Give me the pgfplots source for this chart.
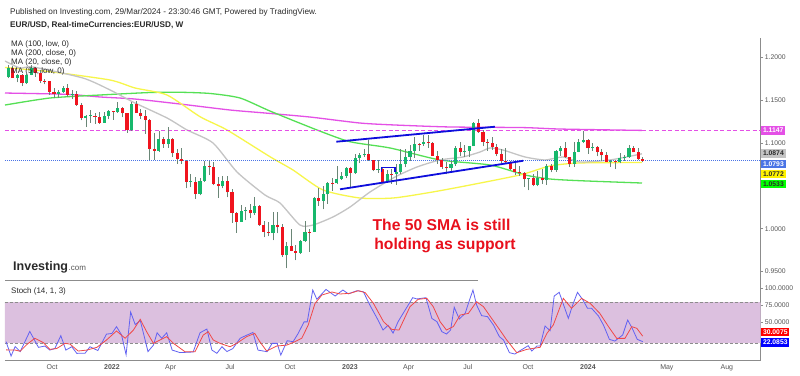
\documentclass[border=0pt]{standalone}
\usepackage{fontspec}
\setmainfont{Liberation Sans}
\usepackage{pgfplots}
\usepackage{pgfplotstable}
\pgfplotsset{compat=1.18}
\definecolor{upg}{HTML}{17B86C}
\definecolor{dnr}{HTML}{F0141E}
\definecolor{wick}{HTML}{6A8676}
\definecolor{maA}{HTML}{E450E6}
\definecolor{maB}{HTML}{55E055}
\definecolor{maC}{HTML}{F7F64A}
\definecolor{maD}{HTML}{C4C4C4}
\definecolor{chan}{HTML}{0E0EDC}
\definecolor{lastp}{HTML}{4A74E6}
\definecolor{stfill}{HTML}{DCC0DF}
\definecolor{stk}{HTML}{6262F2}
\definecolor{std}{HTML}{F04848}
\definecolor{labgray}{HTML}{555555}
\definecolor{axgray}{HTML}{8C8C8C}
\definecolor{txt}{HTML}{2A2A2A}
\definecolor{annot}{HTML}{E8101C}

% weekly candles: w = week index (0 = week of 3 Jan 2022), open high low close
\pgfplotstableread{
w o h l c
-23 1.1770 1.1909 1.1753 1.1870
-21 1.1760 1.1805 1.1706 1.1795
-19 1.1697 1.1810 1.1690 1.1795
-18 1.1795 1.1909 1.1790 1.1880
-12 1.1574 1.1624 1.1524 1.1600
-11 1.1600 1.1669 1.1586 1.1645
-9 1.1559 1.1616 1.1513 1.1568
-6 1.1288 1.1322 1.1186 1.1318
-5 1.1318 1.1383 1.1235 1.1326
-2 1.1239 1.1360 1.1236 1.1320
-1 1.1320 1.1386 1.1279 1.1370
1 1.1360 1.1482 1.1355 1.1412
4 1.1147 1.1483 1.1140 1.1450
10 1.0910 1.1137 1.0900 1.1050
12 1.0985 1.1185 1.0945 1.1050
17 1.0545 1.0642 1.0483 1.0550
19 1.0410 1.0590 1.0390 1.0560
20 1.0560 1.0787 1.0550 1.0735
24 1.0495 1.0615 1.0470 1.0555
28 1.0080 1.0278 1.0080 1.0210
29 1.0210 1.0250 1.0097 1.0220
31 1.0180 1.0368 1.0160 1.0260
35 0.9955 1.0200 0.9865 1.0040
38 0.9690 0.9850 0.9536 0.9800
41 0.9722 0.9870 0.9705 0.9860
42 0.9860 1.0094 0.9850 0.9965
44 0.9960 1.0365 0.9960 1.0355
46 1.0325 1.0497 1.0225 1.0400
47 1.0400 1.0545 1.0290 1.0535
49 1.0530 1.0737 1.0520 1.0585
50 1.0585 1.0660 1.0570 1.0620
51 1.0620 1.0715 1.0590 1.0705
53 1.0645 1.0875 1.0640 1.0830
54 1.0830 1.0887 1.0765 1.0855
55 1.0855 1.0930 1.0835 1.0870
58 1.0680 1.0805 1.0655 1.0695
60 1.0547 1.0690 1.0535 1.0635
62 1.0640 1.0760 1.0515 1.0665
63 1.0665 1.0930 1.0635 1.0760
64 1.0760 1.0925 1.0715 1.0840
65 1.0840 1.0973 1.0788 1.0905
66 1.0905 1.1075 1.0830 1.0990
68 1.0990 1.1095 1.0965 1.1015
74 1.0710 1.0790 1.0665 1.0750
75 1.0750 1.0970 1.0733 1.0940
77 1.0895 1.0975 1.0835 1.0910
78 1.0910 1.0970 1.0835 1.0965
79 1.0965 1.1245 1.0965 1.1230
91 1.0575 1.0590 1.0448 1.0587
93 1.0510 1.0668 1.0495 1.0595
95 1.0565 1.0755 1.0515 1.0730
97 1.0685 1.0915 1.0665 1.0910
98 1.0910 1.0965 1.0850 1.0940
101 1.0760 1.1010 1.0725 1.0895
102 1.0895 1.1045 1.0890 1.1015
103 1.1015 1.1140 1.1000 1.1040
105 1.0940 1.0998 1.0910 1.0950
109 1.0780 1.0805 1.0720 1.0785
111 1.0775 1.0888 1.0762 1.0820
112 1.0820 1.0855 1.0795 1.0838
113 1.0838 1.0980 1.0830 1.0940
}\up

\pgfplotstableread{
w o h l c
-22 1.1870 1.1900 1.1760 1.1762
-20 1.1795 1.1805 1.1664 1.1697
-17 1.1880 1.1884 1.1771 1.1813
-16 1.1813 1.1849 1.1700 1.1724
-15 1.1724 1.1750 1.1684 1.1718
-14 1.1718 1.1720 1.1563 1.1596
-13 1.1596 1.1640 1.1529 1.1574
-10 1.1645 1.1692 1.1535 1.1559
-8 1.1568 1.1608 1.1432 1.1445
-7 1.1445 1.1464 1.1264 1.1288
-4 1.1316 1.1355 1.1226 1.1306
-3 1.1306 1.1360 1.1222 1.1239
0 1.1370 1.1375 1.1272 1.1360
2 1.1412 1.1415 1.1300 1.1345
3 1.1345 1.1345 1.1121 1.1147
5 1.1450 1.1495 1.1375 1.1350
6 1.1350 1.1395 1.1280 1.1320
7 1.1320 1.1390 1.1106 1.1270
8 1.1270 1.1275 1.0806 1.0930
9 1.0930 1.1121 1.0806 1.0910
11 1.1050 1.1070 1.0945 1.0985
13 1.1050 1.1054 1.0838 1.0880
14 1.0880 1.0935 1.0757 1.0810
15 1.0810 1.0936 1.0760 1.0795
16 1.0795 1.0806 1.0471 1.0545
18 1.0550 1.0600 1.0350 1.0410
21 1.0735 1.0787 1.0630 1.0720
22 1.0720 1.0775 1.0505 1.0520
23 1.0520 1.0600 1.0360 1.0495
25 1.0555 1.0615 1.0365 1.0425
26 1.0425 1.0460 1.0070 1.0185
27 1.0185 1.0200 0.9952 1.0080
30 1.0220 1.0294 1.0123 1.0180
32 1.0260 1.0280 1.0033 1.0040
33 1.0040 1.0090 0.9900 0.9965
34 0.9965 1.0080 0.9910 0.9955
36 1.0040 1.0197 0.9945 1.0015
37 1.0015 1.0050 0.9670 0.9690
39 0.9800 0.9999 0.9735 0.9740
40 0.9740 0.9810 0.9630 0.9722
43 0.9965 1.0000 0.9730 0.9955
45 1.0355 1.0480 1.0270 1.0325
48 1.0535 1.0595 1.0443 1.0525
52 1.0705 1.0715 1.0483 1.0645
56 1.0870 1.1033 1.0790 1.0800
57 1.0800 1.0804 1.0670 1.0680
59 1.0695 1.0705 1.0533 1.0547
61 1.0635 1.0695 1.0525 1.0625
67 1.0990 1.1000 1.0910 1.0980
69 1.1015 1.1090 1.0940 1.1005
70 1.1005 1.1010 1.0850 1.0850
71 1.0850 1.0906 1.0760 1.0805
72 1.0805 1.0830 1.0700 1.0720
73 1.0720 1.0780 1.0635 1.0710
76 1.0940 1.1012 1.0845 1.0895
80 1.1230 1.1276 1.1120 1.1125
81 1.1125 1.1150 1.0960 1.1015
82 1.1015 1.1045 1.0910 1.1005
83 1.1005 1.1065 1.0920 1.0950
84 1.0950 1.0985 1.0845 1.0872
85 1.0872 1.0930 1.0765 1.0795
86 1.0795 1.0945 1.0770 1.0775
87 1.0775 1.0795 1.0685 1.0700
88 1.0700 1.0770 1.0630 1.0660
89 1.0660 1.0735 1.0615 1.0645
90 1.0645 1.0660 1.0488 1.0575
92 1.0587 1.0640 1.0495 1.0510
94 1.0595 1.0695 1.0520 1.0565
96 1.0730 1.0755 1.0656 1.0685
99 1.0940 1.1017 1.0828 1.0840
100 1.0840 1.0840 1.0724 1.0760
104 1.1040 1.1045 1.0877 1.0940
106 1.0950 1.0970 1.0845 1.0895
107 1.0895 1.0933 1.0795 1.0855
108 1.0855 1.0897 1.0780 1.0780
110 1.0785 1.0805 1.0695 1.0775
114 1.0940 1.0965 1.0890 1.0890
115 1.0890 1.0942 1.0800 1.0810
116 1.0810 1.0840 1.0775 1.0793
}\down

\pgfplotsset{
  wickstyle/.style={forget plot, mark=none, wick, line width=0.8pt,
    quiver={u=0, v=\thisrow{h}-\thisrow{l}}},
  bodystyle/.style={forget plot, mark=none, #1, line width=3.1pt,
    quiver={u=0, v={max(abs(\thisrow{c}-\thisrow{o}),0.0009)}}},
}

\begin{document}
\begin{tikzpicture}
\useasboundingbox (0,0) rectangle (800pt,-375pt);
\fill[white] (0,0) rectangle (800pt,-375pt);

% ---------- main price panel ----------
\begin{axis}[
  at={(5pt,-280pt)}, anchor=south west,
  scale only axis, width=755.7pt, height=242pt,
  xmin=-23.73, xmax=141.85, ymin=0.94014, ymax=1.22252,
  axis x line=none, axis y line*=right,
  axis line style={draw=axgray, line width=0.8pt},
  ytick={0.95,1.0,1.1,1.15,1.2},
  yticklabels={0.9500,1.0000,1.1000,1.1500,1.2000},
  yticklabel style={font=\fontsize{6.8}{8}\selectfont, text=labgray, anchor=west, inner sep=0pt, xshift=1.5pt},
  tick align=outside, major tick length=2.5pt,
  ytick style={draw=axgray, line width=0.6pt},
  clip=true,
]
% moving averages
\addplot[maA, line width=1.3pt, smooth, tension=0.4] coordinates {
(-23.73,1.1583) (-10.14,1.1568) (-2.91,1.1537) (4.75,1.1513) (14.61,1.1455) (25.57,1.1385)
(33.24,1.1350) (43.1,1.1303) (54.05,1.1233) (61.72,1.1210) (73.77,1.1187) (89.76,1.1180)
(97.87,1.1163) (115.8,1.1147)};
\addplot[maB, line width=1.3pt, smooth, tension=0.4] coordinates {
(-23.73,1.1443) (-13.87,1.1525) (-2.91,1.1560) (8.04,1.1589) (14.61,1.1592) (21.19,1.1578)
(27.76,1.1525) (34.33,1.1373) (44.63,1.1152) (51.86,1.1015) (60.62,1.0942) (71.58,1.0802)
(82.54,1.0743) (90.21,1.0627) (95.68,1.0580) (102.26,1.0560) (115.84,1.0533)};
\addplot[maC, line width=1.3pt, smooth, tension=0.4] coordinates {
(-23.73,1.1881) (-13.87,1.1832) (-0.72,1.1735) (4.75,1.1642) (11.77,1.1560) (19,1.1307)
(24.91,1.1152) (34.33,1.0840) (39.37,1.0685) (45.94,1.0452) (54.05,1.0358) (61.28,1.0358)
(68.73,1.0417) (75.96,1.0487) (89.11,1.0627) (95.68,1.0732) (102.26,1.0767) (115.84,1.0772)};
\addplot[maD, line width=1.3pt, smooth, tension=0.4] coordinates {
(-23.73,1.1957) (-20.44,1.1875) (-17.59,1.1887) (-6.64,1.1758) (-0.72,1.1619) (4.32,1.1478)
(11.77,1.1292) (16.15,1.1152) (21.85,1.1000) (27.1,1.0662) (33.24,1.0393) (36.52,1.0300)
(40.9,1.0043) (43.75,1.0043) (48.13,1.0137) (51.86,1.0253) (56.24,1.0428) (61.72,1.0603)
(66.54,1.0720) (71.58,1.0802) (76.62,1.0837) (80.35,1.0895) (82.54,1.0942) (85.39,1.0918)
(90.21,1.0837) (94.59,1.0802) (98.54,1.0837) (102.26,1.0778) (108.83,1.0802) (115.84,1.0874)};
% horizontal lines
\addplot[maA, line width=1.1pt, dash pattern=on 4pt off 2.5pt] coordinates {(-23.73,1.1147) (141.85,1.1147)};
\addplot[lastp, line width=0.8pt, dash pattern=on 1pt off 1pt] coordinates {(-23.73,1.0793) (141.85,1.0793)};
% candles: wicks from low to high, bodies from min(open,close) upward
\addplot[wickstyle] table[x=w, y=l] {\up};
\addplot[wickstyle] table[x=w, y=l] {\down};
\addplot[bodystyle=upg] table[x=w, y=o] {\up};
\addplot[bodystyle=dnr] table[x=w, y=c] {\down};
% channel lines
\addplot[chan, line width=1.8pt] coordinates {(48.86,1.1015) (83.63,1.1190)};
\addplot[chan, line width=1.8pt] coordinates {(49.68,1.0460) (89.83,1.0793)};
\addplot[chan, line width=1.2pt] coordinates {(58.8,1.0665) (58.8,1.0712) (61.7,1.0712) (61.7,1.0665)};
\end{axis}

% ---------- stochastic panel ----------
\begin{axis}[
  at={(5pt,-360pt)}, anchor=south west,
  scale only axis, width=755.7pt, height=80pt,
  xmin=-23.73, xmax=141.85, ymin=-4.83, ymax=112.25,
  axis x line*=bottom, axis y line*=right,
  axis line style={draw=axgray, line width=0.8pt},
  ytick={50,75,100},
  yticklabels={50.0000,75.0000,100.0000},
  yticklabel style={font=\fontsize{6.8}{8}\selectfont, text=labgray, anchor=west, inner sep=0pt, xshift=1.5pt},
  xtick={-13.43,-0.29,12.57,25.57,38.71,51.86,64.71,77.71,90.86,104,121.29,134.43},
  xticklabels={Oct,\textbf{2022},Apr,Jul,Oct,\textbf{2023},Apr,Jul,Oct,\textbf{2024},May,Aug},
  xticklabel style={font=\fontsize{7}{8}\selectfont, text=labgray, inner sep=0pt, yshift=-1.5pt},
  tick align=outside, major tick length=2.5pt,
  ytick style={draw=axgray, line width=0.6pt},
  xtick style={draw=none},
  clip=true,
]
\addplot[fill=stfill, draw=none] coordinates {(-23.73,20) (141.85,20) (141.85,80) (-23.73,80) (-23.73,20)};
\addplot[axgray, line width=0.8pt, dash pattern=on 3pt off 2pt] coordinates {(-23.73,80) (141.85,80)};
\addplot[axgray, line width=0.8pt, dash pattern=on 3pt off 2pt] coordinates {(-23.73,20) (141.85,20)};
\addplot[stk, line width=0.8pt] coordinates {
(-23.5,22) (-22.4,1) (-21.5,14.9) (-20.4,7.5) (-18.3,37) (-16.4,13.7) (-15,15.6) (-13.9,9.7)
(-12.8,12) (-11.5,30.8) (-10.4,9.7) (-9.1,14.6) (-8,4.9) (-6.2,5) (-5.1,14.6) (-3.4,9)
(-1.5,33) (-0.3,34) (0.7,44) (1.8,32) (2.8,3) (3.8,65.4) (4.8,47) (5.9,53) (7.6,7.5)
(8.8,17) (9.6,35) (10.6,27) (11.7,35) (12.9,9.7) (14.6,6) (17.5,6.9) (19,35) (20.5,40.5)
(21.6,9.7) (22.7,5) (23.8,14.6) (24.9,7.5) (26.2,12) (27.8,27) (28.9,30.5) (30.6,35.5)
(31.7,9.7) (33.7,7.3) (34.8,19.5) (35.9,19.5) (36.7,2.4) (38.1,23.4) (39.4,22) (40.5,34)
(41.8,51) (42.5,51) (43.7,97.6) (44.6,84) (46.6,98.5) (48.6,88.8) (50.3,97.6) (51.5,92)
(53.4,96.6) (54.8,95) (56.2,75.7) (58,53.7) (59.1,39) (60.2,46) (61.3,34.5) (62.4,51.3)
(65.6,86.4) (66.5,84.5) (68.5,86.4) (69.8,56) (70.9,51.3) (72,36.6) (73,33.2) (73.9,39)
(74.7,72.3) (75.8,55.2) (77.1,63.4) (77.8,78) (78.8,97.6) (79.6,75.7) (80.7,60.1) (82,58.6)
(83.3,46.3) (84.6,29.3) (85.5,24.4) (86.8,5.9) (88,3.9) (89.1,8.8) (90.9,16.1) (91.7,8.3)
(92.8,15.6) (93.5,15.6) (94.6,44.9) (95.7,38) (96.6,88.8) (97.7,94.2) (98.8,73.2) (99.7,56.1)
(100.7,76.6) (101.7,94.2) (102.9,83) (103.9,70.8) (104.8,70.8) (106.3,59.6) (107.4,46.3)
(108.7,25.4) (109.9,22.9) (111.6,31.7) (112.7,53.7) (113.7,41.6) (114.8,25.4) (116,22.09)};
\addplot[std, line width=0.8pt] coordinates {
(-23.5,10) (-21.5,9.7) (-20.4,8) (-19,17.5) (-17.2,27) (-15.3,20.5) (-13.9,10.7) (-12.4,12)
(-10.6,19.5) (-9.5,18.5) (-7.7,8.3) (-5.8,9.7) (-3.6,13.7) (-1.5,24.4) (0.7,37.6) (2.6,27)
(4.4,39) (5.9,54.7) (7.3,36.6) (8.8,19.5) (10.2,24.4) (11.7,29.3) (13.2,19.5) (15.7,7.3)
(17.9,7.3) (19.7,31.7) (20.8,36.6) (21.9,24.4) (23.4,19.5) (25.6,14.6) (27,19.5) (29.2,29.3)
(31,34.1) (32.1,22) (33.6,8.3) (35.8,15.6) (38,17) (39.8,22) (41.3,27) (42.7,46.3) (44.2,78)
(45.7,90.3) (47.9,94.7) (49.7,91.8) (51.9,92.8) (53.7,96.6) (55.2,93.7) (57,78) (59.2,51.3)
(61,40) (62.6,39) (65,73.2) (66.8,84) (68.7,85.4) (70.1,73.2) (71.6,51.3) (73,39) (74.5,44)
(76,61) (77.8,63.4) (79.6,80.5) (81.1,73.2) (82.9,56) (84.7,39) (86.2,24.4) (88.4,5.9)
(90.6,10.7) (92,12.2) (93.5,13.7) (95,34.1) (96.4,46.3) (98.6,85.4) (100.4,70.8) (102.6,85.4)
(104.5,78) (106.6,63.4) (108.5,44) (110.3,26.8) (112.1,26.8) (113.6,44) (114.7,41.6) (116,30.01)};
\end{axis}

% ---------- frame pieces and texts ----------
\draw[axgray, line width=0.8pt] (5pt,-280pt) -- (478pt,-280pt);

\node[anchor=base west, inner sep=0pt, font=\fontsize{8.2}{9}\selectfont, text=txt] at (10pt,-14pt)
  {Published on Investing.com, 29/Mar/2024 - 23:30:46 GMT, Powered by TradingView.};
\node[anchor=base west, inner sep=0pt, font=\fontsize{8.2}{9}\selectfont\bfseries, text=txt] at (10pt,-27.3pt)
  {EUR/USD, Real-timeCurrencies:EUR/USD, W};
\foreach \t/\yy in {{MA (100, low, 0)}/46.7, {MA (200, close, 0)}/55.3, {MA (20, close, 0)}/64.3, {MA (50, low, 0)}/73}
  \node[anchor=base west, inner sep=0pt, font=\fontsize{8}{9}\selectfont, text=txt] at (11pt,-\yy pt) {\t};

\node[anchor=base west, inner sep=0pt, font=\fontsize{12.5}{13}\selectfont\bfseries, text=txt] at (13pt,-270pt) {Investing};
\node[anchor=base west, inner sep=0pt, font=\fontsize{8}{9}\selectfont, text=labgray] at (68.5pt,-270pt) {.com};

\node[anchor=base west, inner sep=0pt, font=\fontsize{8}{9}\selectfont, text=txt] at (11pt,-293.3pt) {Stoch (14, 1, 3)};

\node[anchor=base, inner sep=0pt, font=\fontsize{15.7}{17}\selectfont\bfseries, text=annot] at (441.5pt,-230pt) {The 50 SMA is still};
\node[anchor=base, inner sep=0pt, font=\fontsize{15.7}{17}\selectfont\bfseries, text=annot] at (445pt,-249.3pt) {holding as support};

% value boxes on the price scale
\tikzset{vbox/.style={anchor=west, inner xsep=1.8pt, inner ysep=0pt, minimum height=8.5pt, font=\fontsize{6.8}{8}\selectfont\bfseries}}
\node[vbox, fill=maA, text=white] at (761pt,-130.3pt) {1.1147};
\node[vbox, fill=maD, text=txt] at (761pt,-153.3pt) {1.0874};
\node[vbox, fill=lastp, text=white] at (761pt,-164.2pt) {1.0793};
\node[vbox, fill=yellow, text=txt] at (761pt,-173.8pt) {1.0772};
\node[vbox, fill=green, text=txt] at (761pt,-184pt) {1.0533};
\node[vbox, fill=red, text=white] at (761pt,-332pt) {30.0075};
\node[vbox, fill=blue, text=white] at (761pt,-342.5pt) {22.0853};
\end{tikzpicture}
\end{document}
